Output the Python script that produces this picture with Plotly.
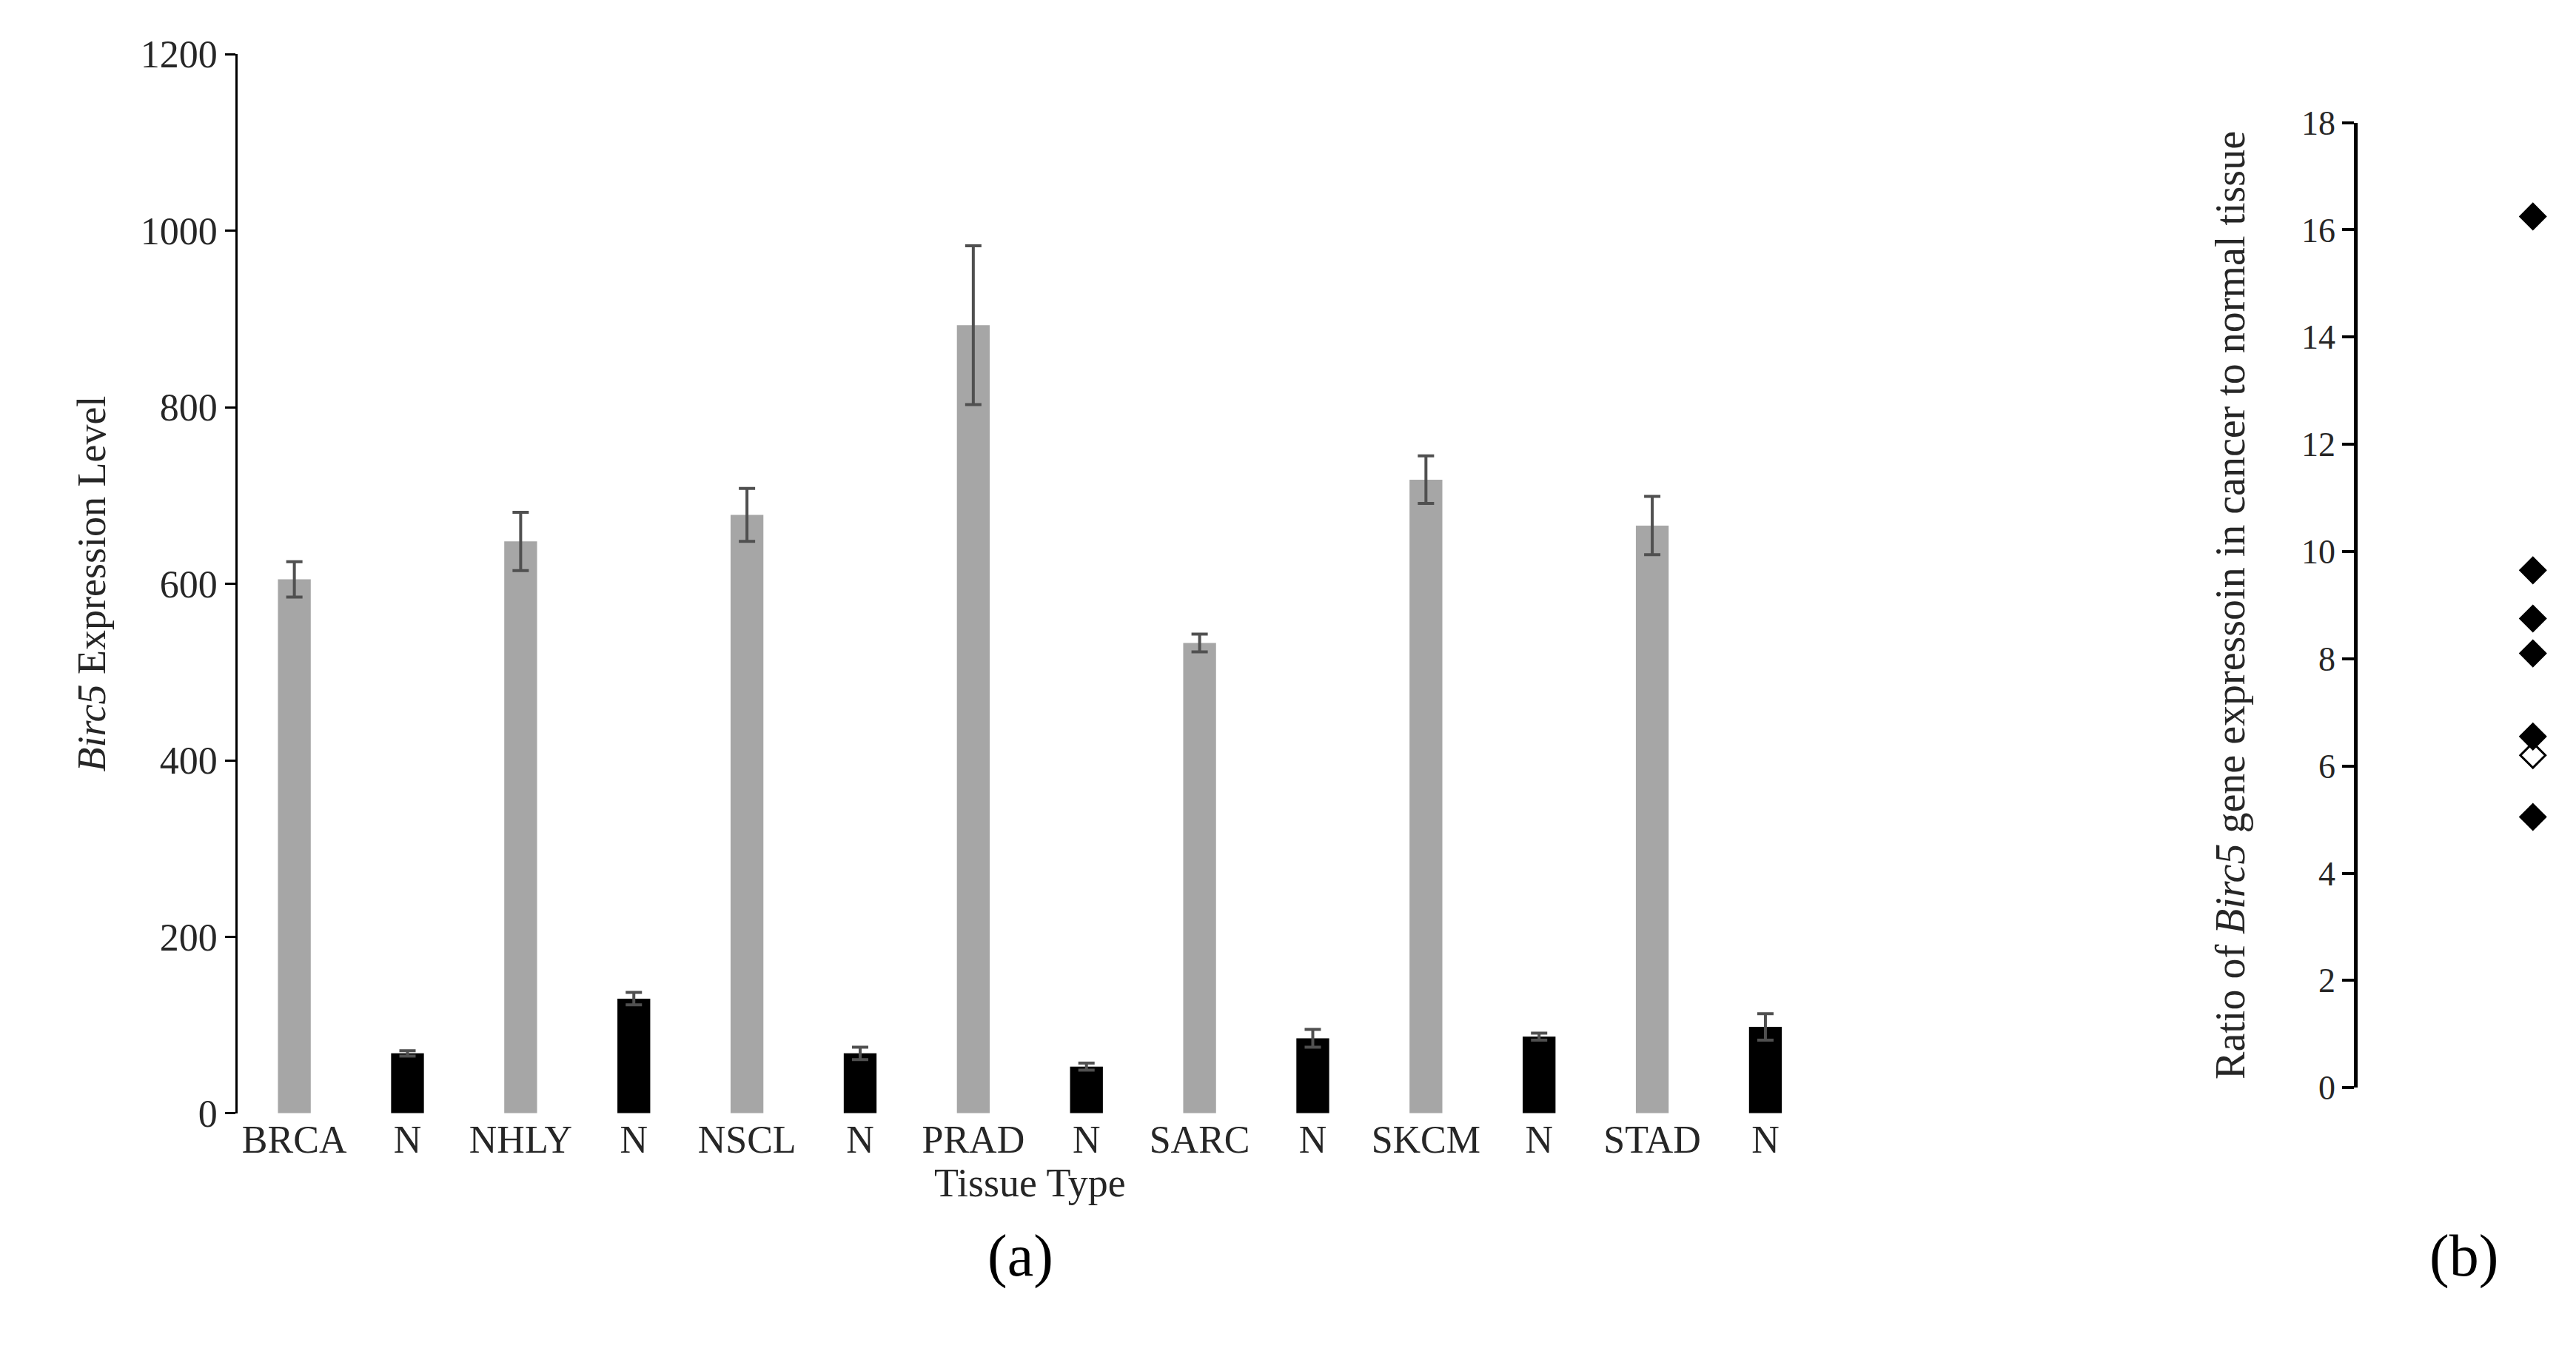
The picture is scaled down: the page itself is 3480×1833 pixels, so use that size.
import plotly.graph_objects as go

categories = ["BRCA", "N", "NHLY", "N", "NSCL", "N", "PRAD", "N", "SARC", "N", "SKCM", "N", "STAD", "N"]
expression = [605, 68, 648, 130, 678, 68, 893, 53, 533, 85, 718, 87, 666, 98]
errors = [20, 3, 33, 7, 30, 7, 90, 4, 10, 10, 27, 4, 33, 15]
ratios = [16.25, 9.65, 8.75, 8.1, 6.55, 6.2, 5.05]
ratio_open = [False, False, False, False, False, True, False]
y_ticks_a = [0, 200, 400, 600, 800, 1000, 1200]
y_ticks_b = [0, 2, 4, 6, 8, 10, 12, 14, 16, 18]

FONT = "Liberation Serif"
idx = list(range(len(categories)))
colors = ["#a6a6a6" if c != "N" else "#000000" for c in categories]

fig = go.Figure()
fig.add_trace(go.Bar(
    x=idx, y=expression, marker=dict(color=colors, line=dict(width=0)), width=0.29,
    error_y=dict(type="data", array=errors, color="#505050", thickness=4, width=11),
    xaxis="x", yaxis="y", showlegend=False))
fig.add_trace(go.Scatter(
    x=[1] * len(ratios), y=ratios, mode="markers",
    marker=dict(symbol=["diamond-open" if o else "diamond" for o in ratio_open],
                size=26, color="black", line=dict(color="black", width=3)),
    xaxis="x2", yaxis="y2", showlegend=False))

fig.update_layout(
    width=3480, height=1833, paper_bgcolor="white", plot_bgcolor="white",
    margin=dict(l=0, r=0, t=0, b=0),
    font=dict(family=FONT, color="#262626", size=52),
    xaxis=dict(domain=[0.090, 0.705], range=[-0.5, 13.5], tickvals=idx, ticktext=categories,
               showline=False, ticks="", showgrid=False, zeroline=False,
               title=dict(text="Tissue Type", font=dict(size=54), standoff=4)),
    yaxis=dict(domain=[0.1735, 0.979], range=[0, 1200], tickvals=y_ticks_a,
               showline=True, linecolor="black", linewidth=3, ticks="outside", ticklen=14,
               tickwidth=3, tickcolor="black", showgrid=False, zeroline=False,
               title=dict(text="<i>Birc5</i> Expression Level", font=dict(size=54), standoff=30)),
    xaxis2=dict(domain=[0.913, 1.0], range=[0, 1.28], visible=False),
    yaxis2=dict(domain=[0.193, 0.927], range=[0, 18], tickvals=y_ticks_b, anchor="x2",
                showline=True, linecolor="black", linewidth=5, ticks="outside", ticklen=16,
                tickwidth=4, tickcolor="black", showgrid=False, zeroline=False,
                tickfont=dict(size=46),
                title=dict(text="Ratio of <i>Birc5</i> gene expressoin in cancer to normal tissue",
                           font=dict(size=56), standoff=60)),
    annotations=[
        dict(text="(a)", x=1370 / 3480, y=1 - 1762 / 1833, xref="paper", yref="paper",
             showarrow=False, font=dict(size=80, color="black")),
        dict(text="(b)", x=3369 / 3480, y=1 - 1762 / 1833, xref="paper", yref="paper",
             showarrow=False, font=dict(size=80, color="black")),
    ],
)
fig.write_html("out.html")
